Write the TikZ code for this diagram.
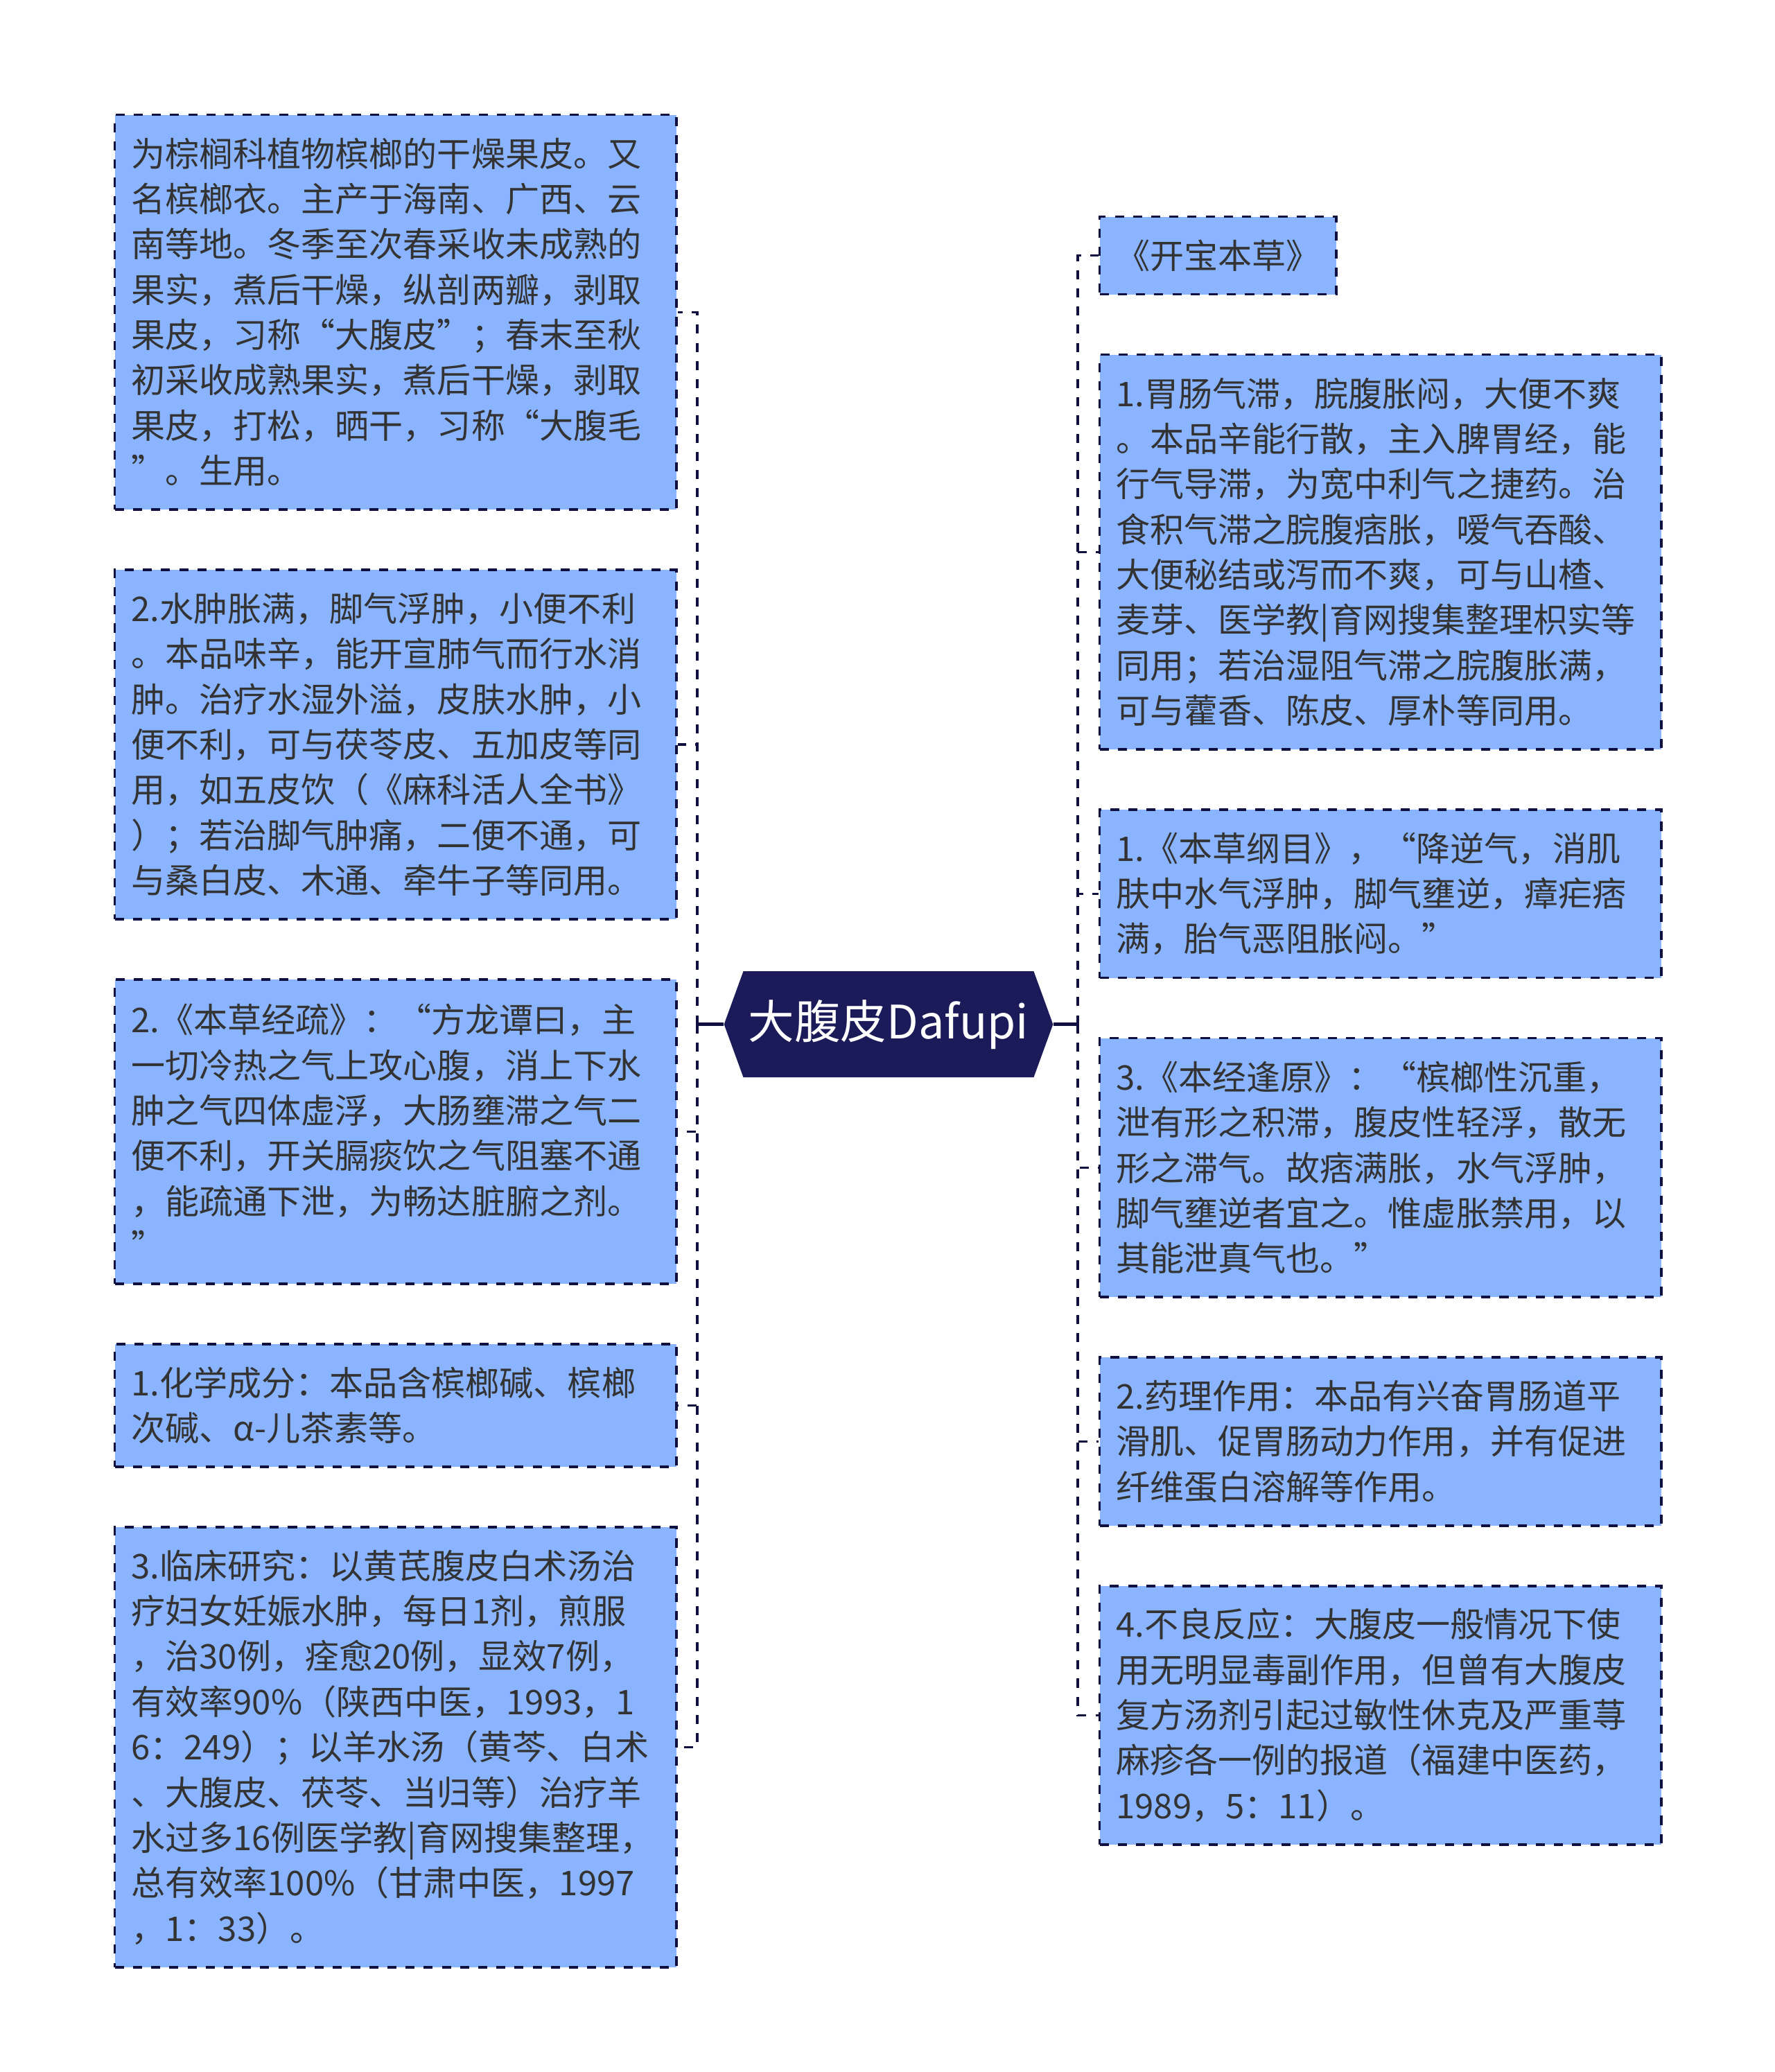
\documentclass[tikz,border=0pt]{standalone}
\usepackage{fontspec}
\setmainfont{Noto Sans CJK SC}
\usetikzlibrary{positioning,shapes.symbols}
\definecolor{leafblue}{RGB}{138,180,255}
\definecolor{rootnavy}{RGB}{27,27,90}
\definecolor{edgenavy}{RGB}{16,16,64}
\definecolor{inkgray}{RGB}{51,51,51}
\tikzset{
  leaf/.style={draw=edgenavy,fill=leafblue,line width=0.9pt,dash pattern=on 3.3pt off 3.3pt,
    text=inkgray,font=\fontsize{12.35pt}{16.45pt}\selectfont,align=left,
    inner xsep=6pt,inner ysep=0pt,text width=192pt,minimum width=204pt},
  lines/.style={minimum height=#1},
  root/.style={signal,signal to=west and east,signal pointer angle=140,fill=rootnavy,
    text=white,font=\fontsize{16.75pt}{20pt}\selectfont,inner sep=0pt,
    minimum width=119.5pt,minimum height=38.5pt},
  trunk/.style={draw=edgenavy,line width=1.1pt},
  branch/.style={draw=edgenavy,line width=0.9pt,dash pattern=on 3.3pt off 3.3pt}
}
\begin{document}
\begin{tikzpicture}[x=0.25pt,y=-0.25pt]
  \path[fill=white,use as bounding box] (0,0) rectangle (2578,3010);
  \node[root] (root) at (1291,1488) {大腹皮Dafupi};
  \coordinate (lbus) at ([xshift=-9.5pt]root.west);
  \coordinate (rbus) at ([xshift=8.75pt]root.east);

  \node[leaf,lines=143.35pt,anchor=north west] (la) at (165,165)
    {为棕榈科植物槟榔的干燥果皮。又\\名槟榔衣。主产于海南、广西、云\\南等地。冬季至次春采收未成熟的\\果实，煮后干燥，纵剖两瓣，剥取\\果皮，习称“大腹皮”；春末至秋\\初采收成熟果实，煮后干燥，剥取\\果皮，打松，晒干，习称“大腹毛\\”。生用。};
  \node[leaf,lines=126.9pt,below=21pt of la] (lb)
    {2.水肿胀满，脚气浮肿，小便不利\\。本品味辛，能开宣肺气而行水消\\肿。治疗水湿外溢，皮肤水肿，小\\便不利，可与茯苓皮、五加皮等同\\用，如五皮饮（《麻科活人全书》\\）；若治脚气肿痛，二便不通，可\\与桑白皮、木通、牵牛子等同用。};
  \node[leaf,lines=110.45pt,below=21pt of lb] (lc)
    {2.《本草经疏》：“方龙谭曰，主\\一切冷热之气上攻心腹，消上下水\\肿之气四体虚浮，大肠壅滞之气二\\便不利，开关膈痰饮之气阻塞不通\\，能疏通下泄，为畅达脏腑之剂。\\”};
  \node[leaf,lines=44.65pt,below=21pt of lc] (ld)
    {1.化学成分：本品含槟榔碱、槟榔\\次碱、α-儿茶素等。};
  \node[leaf,lines=159.8pt,below=21pt of ld] (le)
    {3.临床研究：以黄芪腹皮白术汤治\\疗妇女妊娠水肿，每日1剂，煎服\\，治30例，痊愈20例，显效7例，\\有效率90\%（陕西中医，1993，1\\6：249）；以羊水汤（黄芩、白术\\、大腹皮、茯苓、当归等）治疗羊\\水过多16例医学教|育网搜集整理，\\总有效率100\%（甘肃中医，1997\\，1：33）。};

  \node[leaf,lines=28.2pt,text width=74pt,minimum width=86pt,align=center,anchor=north west] (ra) at (1596,313)
    {《开宝本草》};
  \node[leaf,lines=143.35pt,below=21pt of ra.south west,anchor=north west] (rb)
    {1.胃肠气滞，脘腹胀闷，大便不爽\\。本品辛能行散，主入脾胃经，能\\行气导滞，为宽中利气之捷药。治\\食积气滞之脘腹痞胀，嗳气吞酸、\\大便秘结或泻而不爽，可与山楂、\\麦芽、医学教|育网搜集整理枳实等\\同用；若治湿阻气滞之脘腹胀满，\\可与藿香、陈皮、厚朴等同用。};
  \node[leaf,lines=61.1pt,below=21pt of rb] (rc)
    {1.《本草纲目》，“降逆气，消肌\\肤中水气浮肿，脚气壅逆，瘴疟痞\\满，胎气恶阻胀闷。”};
  \node[leaf,lines=94pt,below=21pt of rc] (rd)
    {3.《本经逢原》：“槟榔性沉重，\\泄有形之积滞，腹皮性轻浮，散无\\形之滞气。故痞满胀，水气浮肿，\\脚气壅逆者宜之。惟虚胀禁用，以\\其能泄真气也。”};
  \node[leaf,lines=61.1pt,below=21pt of rd] (re)
    {2.药理作用：本品有兴奋胃肠道平\\滑肌、促胃肠动力作用，并有促进\\纤维蛋白溶解等作用。};
  \node[leaf,lines=94pt,below=21pt of re] (rf)
    {4.不良反应：大腹皮一般情况下使\\用无明显毒副作用，但曾有大腹皮\\复方汤剂引起过敏性休克及严重荨\\麻疹各一例的报道（福建中医药，\\1989，5：11）。};

  \draw[trunk] (root.west) -- (lbus);
  \draw[trunk] (root.east) -- (rbus);
  \foreach \n in {la,lb,lc,ld,le}
    \draw[branch] (lbus) |- (\n.east);
  \foreach \n in {ra,rb,rc,rd,re,rf}
    \draw[branch] (rbus) |- (\n.west);
\end{tikzpicture}
\end{document}
